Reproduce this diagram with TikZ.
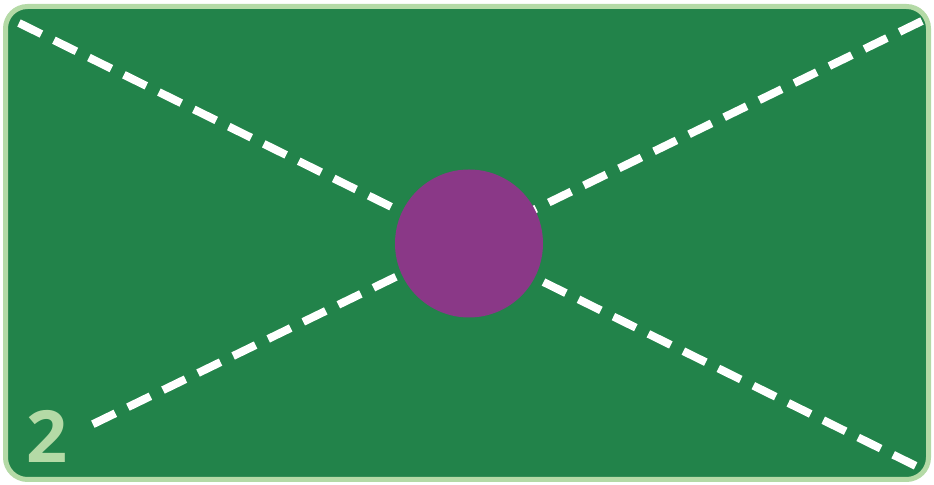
\documentclass[tikz,border=0pt]{standalone}
\usepackage{fontspec}
\setsansfont{Open Sans}
\usepackage{xcolor}
\usetikzlibrary{positioning,calc}
\definecolor{feltgreen}{HTML}{22834A}
\definecolor{rimgreen}{HTML}{B4DAA6}
\definecolor{hubpurple}{HTML}{8A3887}
\tikzset{
  board/.style={draw=rimgreen,line width=2.5pt,fill=feltgreen,rounded corners=11pt},
  chalk/.style={draw=white,line width=4pt,dash pattern=on 12.5pt off 7pt},
  hub/.style={circle,fill=hubpurple,minimum size=74pt,inner sep=0pt},
  tag/.style={font=\sffamily\bfseries\fontsize{36}{36}\selectfont,text=rimgreen,inner sep=0pt}
}
\begin{document}
\begin{tikzpicture}[x=0.5pt,y=-0.5pt]
  \useasboundingbox (0,0) rectangle (934,485);
  \draw[board] (5.5,6.5) rectangle (928.5,479.5);
  \coordinate (nw) at (19,23);
  \coordinate (se) at (922,469);
  \coordinate (ne) at (922,21);
  \coordinate (sw) at (83,429);
  \coordinate (mid) at (469,243.5);
  \draw[chalk] (nw)--(se);
  \draw[chalk] (ne)--(sw);
  \node[hub] (ball) at (mid) {};
  \node[tag,anchor=base west] (num) at (26,463) {2};
\end{tikzpicture}
\end{document}
